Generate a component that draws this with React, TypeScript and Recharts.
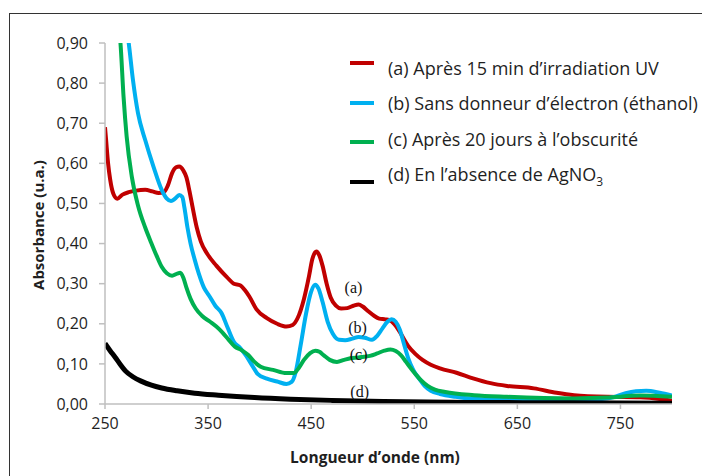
import { LineChart, Line, XAxis, YAxis, ReferenceDot } from "recharts";

// wavelength (nm) / absorbance pairs
const waveA = [250, 251, 253, 255, 258, 262, 267, 273, 280, 289, 296, 302, 307, 311, 315, 319, 322, 326, 329, 332, 335, 339, 343, 349, 358, 368, 375, 381, 386, 390, 397, 407, 417, 426, 432, 437, 443, 448, 451, 455, 458, 461, 465, 469, 474, 479, 485, 491, 496, 500, 505, 511, 516, 522, 527, 532, 537, 544, 551, 558, 566, 575, 591, 607, 624, 640, 666, 688, 705, 737, 769, 790, 800];
const absA = [0.69, 0.66, 0.60, 0.56, 0.525, 0.512, 0.522, 0.528, 0.532, 0.534, 0.53, 0.526, 0.528, 0.545, 0.575, 0.59, 0.592, 0.582, 0.565, 0.53, 0.49, 0.44, 0.405, 0.375, 0.345, 0.317, 0.3, 0.296, 0.283, 0.268, 0.236, 0.214, 0.2, 0.193, 0.197, 0.215, 0.262, 0.32, 0.36, 0.38, 0.37, 0.345, 0.3, 0.265, 0.245, 0.238, 0.239, 0.245, 0.248, 0.243, 0.232, 0.22, 0.213, 0.211, 0.208, 0.195, 0.175, 0.145, 0.125, 0.11, 0.098, 0.089, 0.078, 0.064, 0.052, 0.045, 0.039, 0.028, 0.022, 0.018, 0.017, 0.012, 0.008];

const waveB = [266, 270, 273, 277, 282, 289, 297, 305, 310, 314, 318, 322, 325, 327, 330, 333, 337, 341, 346, 351, 357, 363, 369, 375, 381, 387, 393, 398, 407, 417, 426, 431, 435, 440, 445, 450, 454, 457, 461, 466, 471, 477, 483, 490, 496, 502, 509, 514, 519, 524, 528, 532, 536, 540, 544, 549, 555, 560, 566, 575, 590, 608, 640, 705, 730, 745, 755, 765, 775, 788, 800];
const absB = [1.02, 0.95, 0.9, 0.81, 0.725, 0.658, 0.592, 0.534, 0.512, 0.506, 0.512, 0.521, 0.516, 0.49, 0.44, 0.4, 0.36, 0.325, 0.29, 0.27, 0.245, 0.227, 0.19, 0.155, 0.14, 0.12, 0.095, 0.075, 0.063, 0.056, 0.05, 0.055, 0.08, 0.15, 0.225, 0.28, 0.297, 0.288, 0.255, 0.205, 0.175, 0.16, 0.159, 0.163, 0.167, 0.165, 0.16, 0.17, 0.188, 0.205, 0.211, 0.205, 0.185, 0.15, 0.115, 0.085, 0.062, 0.045, 0.033, 0.025, 0.018, 0.013, 0.01, 0.01, 0.012, 0.018, 0.027, 0.032, 0.033, 0.028, 0.021];

const waveC = [261, 263, 265, 268, 271, 276, 282, 289, 295, 300, 305, 310, 315, 320, 323, 326, 329, 333, 338, 344, 352, 358, 364, 370, 376, 382, 389, 395, 401, 413, 426, 433, 438, 443, 449, 454, 458, 462, 468, 475, 482, 488, 496, 501, 507, 514, 521, 527, 532, 537, 542, 547, 552, 557, 563, 570, 580, 608, 640, 705, 737, 769, 800];
const absC = [1.02, 0.95, 0.9, 0.766, 0.667, 0.567, 0.495, 0.44, 0.401, 0.37, 0.342, 0.326, 0.32, 0.325, 0.327, 0.315, 0.29, 0.262, 0.238, 0.22, 0.205, 0.193, 0.178, 0.16, 0.143, 0.135, 0.122, 0.105, 0.093, 0.085, 0.077, 0.077, 0.09, 0.11, 0.127, 0.133, 0.13, 0.122, 0.11, 0.105, 0.11, 0.114, 0.116, 0.118, 0.12, 0.126, 0.133, 0.136, 0.132, 0.122, 0.105, 0.088, 0.072, 0.058, 0.045, 0.036, 0.03, 0.022, 0.018, 0.014, 0.016, 0.021, 0.018];

const waveD = [250, 255, 260, 265, 270, 277, 285, 295, 305, 320, 337, 360, 395, 430, 470, 520, 600, 700, 800];
const absD = [0.151, 0.133, 0.116, 0.098, 0.082, 0.068, 0.057, 0.047, 0.04, 0.033, 0.027, 0.022, 0.016, 0.012, 0.009, 0.006, 0.004, 0.003, 0.002];

const xTicks = [250, 350, 450, 550, 650, 750];
const yTicks = [0, 0.1, 0.2, 0.3, 0.4, 0.5, 0.6, 0.7, 0.8, 0.9];

const seriesNames = [
  "(a) Après 15 min d’irradiation UV",
  "(b) Sans donneur d’électron (éthanol)",
  "(c) Après 20 jours à l’obscurité",
  "(d) En l’absence de AgNO",
];
const seriesColors = ["#C00000", "#00B0F0", "#00B050", "#000000"];
const curveTags = ["(a)", "(b)", "(c)", "(d)"];
const tagX = [491, 495, 496, 497];
const tagY = [0.292, 0.192, 0.125, 0.032];

const toPoints = (w: number[], a: number[]) => w.map((nm, i) => ({ nm, v: a[i] }));
const series = [
  toPoints(waveA, absA),
  toPoints(waveB, absB),
  toPoints(waveC, absC),
  toPoints(waveD, absD),
];

const FONT = "'Open Sans', sans-serif";
const axisGrey = "#bfbfbf";
const textColor = "#1f1f1f";
// legend swatch offset vs text centre, like the original
const swatchShift = [-5, 0, 3.5, 8];

export default function App() {
  return (
    <div style={{ position: "relative", width: 702, height: 468, overflow: "hidden", fontFamily: FONT }}>
      <div
        style={{
          position: "absolute", left: 1, top: 5, width: 760, height: 520,
          border: "1.5px solid #333",
        }}
      />
      <LineChart width={702} height={468} margin={{ top: 35, right: 38, bottom: 42, left: 37 }}>
        <XAxis
          dataKey="nm"
          type="number"
          domain={[250, 800]}
          ticks={xTicks}
          allowDataOverflow
          stroke={axisGrey}
          strokeWidth={1.5}
          tickSize={5}
          tickMargin={9}
          height={30}
          tick={{ fill: textColor, fontSize: 16, fontFamily: FONT }}
        />
        <YAxis
          type="number"
          domain={[0, 0.9]}
          ticks={yTicks}
          allowDataOverflow
          width={60}
          stroke={axisGrey}
          strokeWidth={1.5}
          tickSize={6}
          tickMargin={11}
          tickFormatter={(v: number) => v.toFixed(2).replace(".", ",")}
          tick={{ fill: textColor, fontSize: 16, fontFamily: FONT }}
        />
        {series.map((pts, i) => (
          <Line
            key={i}
            data={pts}
            dataKey="v"
            type="monotone"
            stroke={seriesColors[i]}
            strokeWidth={i === 3 ? 5 : 4}
            dot={false}
            activeDot={false}
            isAnimationActive={false}
          />
        ))}
        {curveTags.map((t, i) => (
          <ReferenceDot
            key={t}
            x={tagX[i]}
            y={tagY[i]}
            r={0}
            fill="none"
            stroke="none"
            label={{ value: t, position: "center", fill: "#111", fontSize: 16, fontFamily: "'Liberation Serif', serif" }}
          />
        ))}
      </LineChart>

      {/* axis titles */}
      <div
        style={{
          position: "absolute", left: 30 - 100, top: 208, width: 200, textAlign: "center",
          transform: "rotate(-90deg)", fontWeight: 700, fontSize: 15, color: textColor, lineHeight: "18px",
        }}
      >
        Absorbance (u.a.)
      </div>
      <div
        style={{
          position: "absolute", left: 267, top: 440, width: 200, textAlign: "center",
          fontWeight: 700, fontSize: 15.5, color: textColor, lineHeight: "18px",
        }}
      >
        Longueur d’onde (nm)
      </div>

      {/* legend */}
      <div style={{ position: "absolute", left: 342, top: 42.5 }}>
        {seriesNames.map((name, i) => (
          <div key={name} style={{ display: "flex", alignItems: "center", height: 35.3, color: textColor, fontSize: 18 }}>
            <div
              style={{
                width: 24, height: 4, background: seriesColors[i], marginRight: 14,
                position: "relative", top: swatchShift[i],
              }}
            />
            <span style={{ whiteSpace: "nowrap" }}>
              {name}
              {i === 3 && <sub style={{ fontSize: 12, lineHeight: 0 }}>3</sub>}
            </span>
          </div>
        ))}
      </div>
    </div>
  );
}
